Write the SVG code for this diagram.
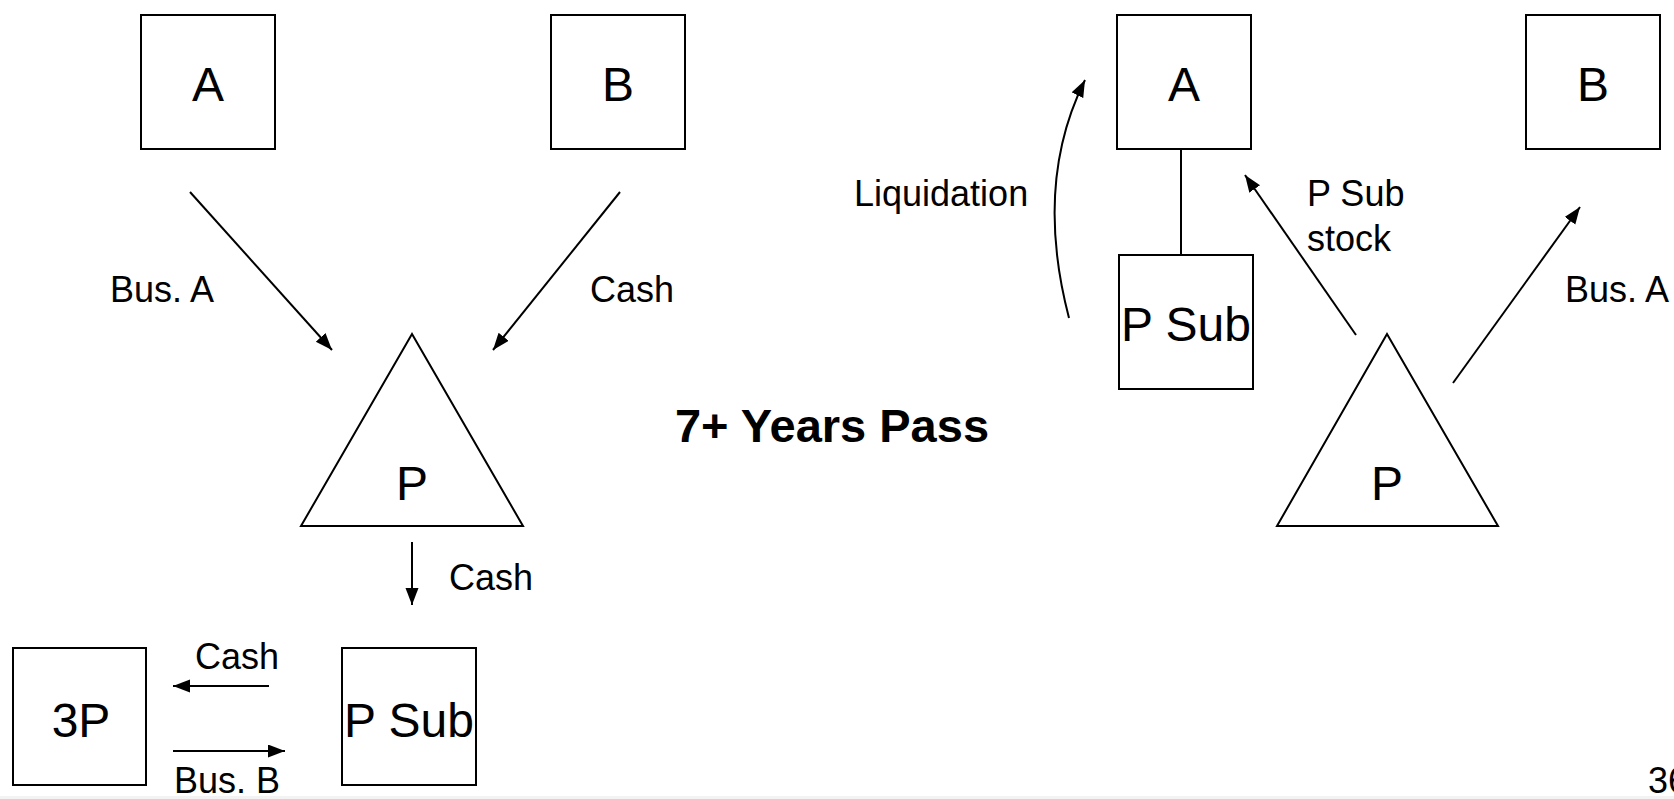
<svg xmlns="http://www.w3.org/2000/svg" width="1674" height="799" viewBox="0 0 1674 799">
  <style>
    .box { fill: #fff; stroke: #000; stroke-width: 2; }
    .edge { fill: none; stroke: #000; stroke-width: 2; }
    .node { font-family: "Liberation Sans", Arial, sans-serif; font-size: 48px; fill: #000; text-anchor: middle; }
    .lbl { font-family: "Liberation Sans", Arial, sans-serif; font-size: 36px; fill: #000; }
    .title { font-family: "Liberation Sans", Arial, sans-serif; font-size: 47px; font-weight: bold; fill: #000; text-anchor: middle; }
  </style>
  <defs>
    <marker id="arrow" markerUnits="userSpaceOnUse" markerWidth="20" markerHeight="14" refX="17" refY="6.5" orient="auto">
      <path d="M0,0 L17,6.5 L0,13 z" fill="#000"/>
    </marker>
  </defs>
  <rect width="1674" height="799" fill="#fff"/>

  <!-- Before: A and B contribute to P; P funds P Sub which trades with 3P -->
  <g id="left-A"><rect class="box" x="141" y="15" width="134" height="134"/><text class="node" x="208" y="101">A</text></g>
  <g id="left-B"><rect class="box" x="551" y="15" width="134" height="134"/><text class="node" x="618" y="101">B</text></g>
  <g id="left-P"><polygon class="box" points="412,334 301,526 523,526"/><text class="node" x="412" y="500">P</text></g>
  <g id="left-3P"><rect class="box" x="13" y="648" width="133" height="137"/><text class="node" x="81" y="737">3P</text></g>
  <g id="left-PSub"><rect class="box" x="342" y="648" width="134" height="137"/><text class="node" x="409" y="737">P Sub</text></g>

  <!-- After: P distributes P Sub stock to A and Bus. A to B -->
  <g id="right-A"><rect class="box" x="1117" y="15" width="134" height="134"/><text class="node" x="1184" y="101">A</text></g>
  <g id="right-B"><rect class="box" x="1526" y="15" width="134" height="134"/><text class="node" x="1593" y="101">B</text></g>
  <g id="right-PSub"><rect class="box" x="1119" y="255" width="134" height="134"/><text class="node" x="1186" y="341">P Sub</text></g>
  <g id="right-P"><polygon class="box" points="1387,334 1277,526 1498,526"/><text class="node" x="1387" y="500">P</text></g>

  <g id="connectors">
    <line class="edge" x1="190" y1="192" x2="332" y2="350" marker-end="url(#arrow)"/>
    <line class="edge" x1="620" y1="192" x2="493" y2="350" marker-end="url(#arrow)"/>
    <line class="edge" x1="412" y1="542" x2="412" y2="605" marker-end="url(#arrow)"/>
    <line class="edge" x1="269" y1="686" x2="173" y2="686" marker-end="url(#arrow)"/>
    <line class="edge" x1="173" y1="751" x2="285" y2="751" marker-end="url(#arrow)"/>
    <line class="edge" x1="1181" y1="149" x2="1181" y2="255"/>
    <path class="edge" d="M1069,318 C1046,230 1050,150 1085,80" marker-end="url(#arrow)"/>
    <line class="edge" x1="1356" y1="335" x2="1245" y2="175" marker-end="url(#arrow)"/>
    <line class="edge" x1="1453" y1="383" x2="1580" y2="207" marker-end="url(#arrow)"/>
  </g>

  <g id="labels">
    <text class="lbl" x="110" y="302">Bus. A</text>
    <text class="lbl" x="590" y="302">Cash</text>
    <text class="lbl" x="449" y="590">Cash</text>
    <text class="lbl" x="195" y="669">Cash</text>
    <text class="lbl" x="174" y="793">Bus. B</text>
    <text class="title" x="832" y="442">7+ Years Pass</text>
    <text class="lbl" x="854" y="206">Liquidation</text>
    <text class="lbl" x="1307" y="206">P Sub</text>
    <text class="lbl" x="1307" y="251">stock</text>
    <text class="lbl" x="1565" y="302">Bus. A</text>
    <text class="lbl" x="1648" y="793">36</text>
  </g>

  <!-- footer strip -->
  <rect x="0" y="796" width="1674" height="3" fill="#f3f3f3"/>
</svg>
